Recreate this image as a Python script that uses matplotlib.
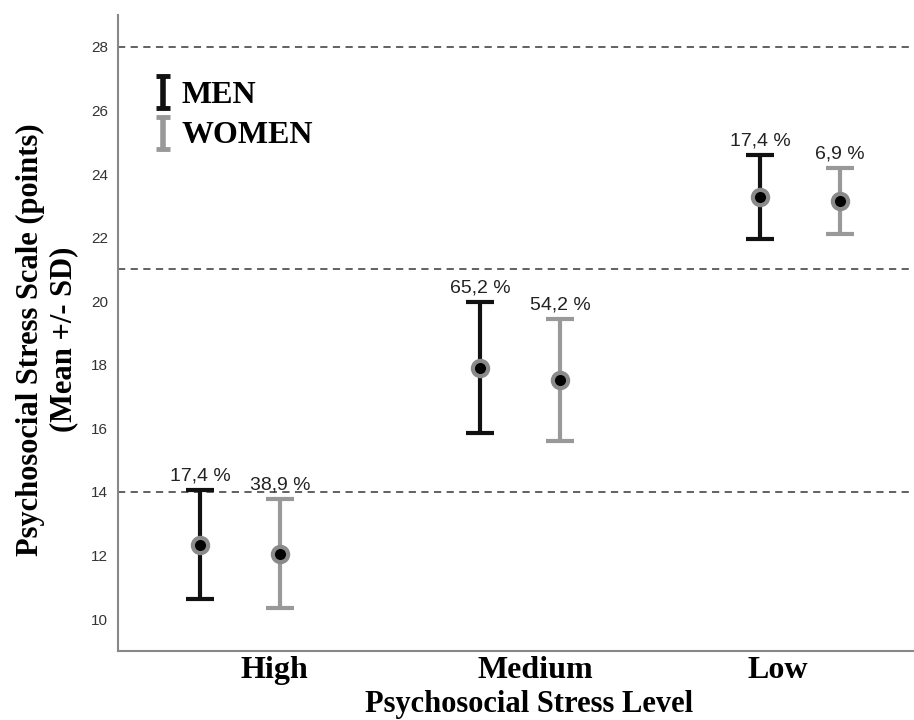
import matplotlib
matplotlib.use("Agg")
import matplotlib.pyplot as plt
import matplotlib.transforms as mtransforms
import numpy as np

levels = ["High", "Medium", "Low"]
men_mean = [12.34, 17.90, 23.28]
men_sd = [1.72, 2.06, 1.33]
women_mean = [12.06, 17.53, 23.16]
women_sd = [1.71, 1.92, 1.03]
men_pct = ["17,4 %", "65,2 %", "17,4 %"]
women_pct = ["38,9 %", "54,2 %", "6,9 %"]
cutoffs = [14, 21, 28]

serif = "Liberation Serif"
sans = "Liberation Sans"

fig = plt.figure(figsize=(9.14, 7.2), dpi=100)
ax = fig.add_axes([0.129, 0.096, 0.871, 0.883])

x = np.arange(len(levels))
off = 0.143
black = "#111111"
grey = "#999999"

for y in cutoffs:
    ax.axhline(y, color="#555555", lw=1.3, ls=(0, (4, 3)), zorder=1)

groups = [
    (x - off, men_mean, men_sd, black, men_pct, "MEN"),
    (x + off, women_mean, women_sd, grey, women_pct, "WOMEN"),
]
handles = []
for xs, m, sd, col, pct, name in groups:
    ax.errorbar(xs, m, yerr=sd, fmt="none", ecolor=col, elinewidth=3,
                capsize=10, capthick=3, zorder=2)
    ax.plot(xs, m, "o", color="black", markersize=11, mec="#8a8a8a",
            mew=3, zorder=3, ls="none")
    for xi, mi, si, t in zip(xs, m, sd, pct):
        ax.annotate(t, (xi, mi + si), xytext=(0, 4), textcoords="offset points",
                    ha="center", va="bottom", fontsize=14, family=sans,
                    color="#222222")
    h = ax.errorbar([np.nan], [np.nan], yerr=[1], fmt="none", ecolor=col,
                    elinewidth=4, capsize=5, capthick=3.5, label=name)
    handles.append(h)

leg = ax.legend(handles=handles, loc="upper left", bbox_to_anchor=(0.03, 0.917),
                frameon=False, handlelength=0.5, handleheight=0.5,
                handletextpad=0.35, labelspacing=0.35, borderaxespad=0,
                prop={"family": serif, "weight": "bold", "size": 23})

ax.set_xlim(-0.436, 2.407)
ax.set_ylim(9, 29)
ax.set_yticks(range(10, 29, 2))
ax.set_xticks(x)
ax.set_xticklabels(levels, family=serif, fontweight="bold", fontsize=23)
ax.tick_params(axis="y", length=0, pad=7, labelsize=11, labelcolor="#333333")
ax.tick_params(axis="x", length=0, pad=4)
for lab in ax.get_yticklabels():
    lab.set_family(sans)
# shift category labels the way the original renders them
for lab, dx in zip(ax.get_xticklabels(), [34, 15, -22]):
    lab.set_transform(lab.get_transform() +
                      mtransforms.ScaledTranslation(dx / 100, 0, fig.dpi_scale_trans))

ax.spines["top"].set_visible(False)
ax.spines["right"].set_visible(False)
ax.spines["left"].set_color("#888888")
ax.spines["bottom"].set_color("#888888")
ax.spines["left"].set_linewidth(1.5)
ax.spines["bottom"].set_linewidth(1.5)

ax.set_xlabel("Psychosocial Stress Level", family=serif, fontweight="bold",
              fontsize=22, labelpad=0)
ax.xaxis.set_label_coords(0.517, -0.061)
ax.set_ylabel("Psychosocial Stress Scale (points)\n(Mean +/- SD)", family=serif,
              fontweight="bold", fontsize=22, linespacing=1.2)
ax.yaxis.set_label_coords(-0.05, 0.49)

fig.savefig("out.png", dpi=100)
